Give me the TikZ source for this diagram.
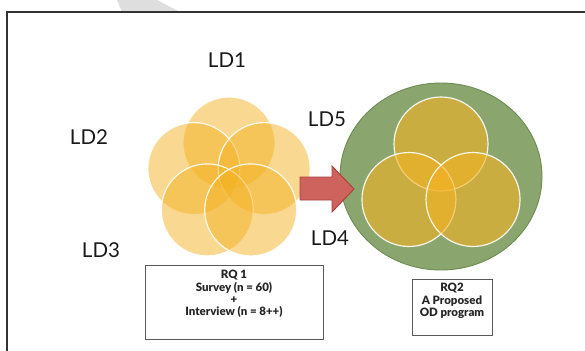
\documentclass[tikz,border=0pt]{standalone}
\usepackage{xcolor}
\usepackage{fontspec}
\setmainfont{Lato}[BoldFont={Lato Black}]
\usepackage{tikz}
\definecolor{petal}{RGB}{243,178,35}
\definecolor{leaf}{RGB}{138,166,110}
\definecolor{leafline}{RGB}{110,140,84}
\definecolor{arrowred}{RGB}{206,98,92}
\definecolor{arrowline}{RGB}{170,66,62}
\definecolor{wedge}{RGB}{222,222,222}
\tikzset{
  ldlabel/.style={font=\fontsize{17.5}{20}\selectfont, text=black!90},
  boxtext/.style={font=\fontsize{9.8}{10.6}\selectfont\bfseries, align=center, text=black!85},
  rqframe/.style={draw=black!65, line width=0.8pt},
  flower/.style={fill=petal, fill opacity=0.5, draw=white, draw opacity=0.9, line width=1pt},
}

\begin{document}
\begin{tikzpicture}[x=0.03cm, y=-0.03cm]
        \useasboundingbox (0,0) rectangle (585,350);
        \fill[wedge] (117,0) -- (157,0) -- (180,12) -- (122,12) -- cycle;
        \draw[black!80, line width=1.2pt] (7,352) -- (7,12) -- (587,12);
        \foreach \a in {90,162,18,234,306}
          \draw[flower] (229,180) ++(-\a:37) circle (46);
        \draw[fill=leaf, draw=leafline, line width=0.8pt] (441,176.5) circle [x radius = 101, y radius = 93.5];
        \foreach \a in {90,210,330}
          \draw[flower, fill opacity=0.6] (441,181) ++(-\a:37) circle (47);
        \draw[fill=arrowred, draw=arrowline, line width=0.8pt] (300,177) -- (332,177) -- (332,166) -- (354,189) -- (332,212) -- (332,200) -- (300,200) -- cycle;
        \node[ldlabel] (ld1) at (227,60) {LD1};
        \node[ldlabel] (ld2) at (89,137) {LD2};
        \node[ldlabel] (ld3) at (101,250) {LD3};
        \node[ldlabel] (ld4) at (330,238) {LD4};
        \node[ldlabel] (ld5) at (327,119) {LD5};
        \draw[rqframe] (145,265) rectangle (323,339);
        \node[boxtext] (rq1) at (234,294) {RQ 1\\Survey (n = 60)\\+\\Interview (n = 8++)};
        \draw[rqframe] (412,279) rectangle (492,335);
        \node[boxtext] (rq2) at (452,301) {RQ2\\A Proposed\\OD program};
      \end{tikzpicture}
\end{document}
